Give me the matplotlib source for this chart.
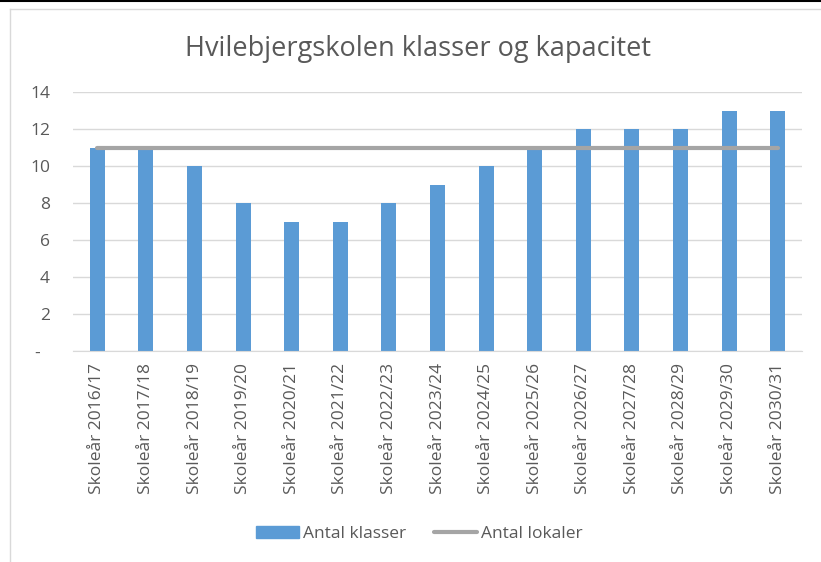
import matplotlib
matplotlib.use("Agg")
import matplotlib.pyplot as plt
from matplotlib.lines import Line2D
import numpy as np

# data
skoleaar = ["Skoleår 2016/17", "Skoleår 2017/18", "Skoleår 2018/19", "Skoleår 2019/20",
            "Skoleår 2020/21", "Skoleår 2021/22", "Skoleår 2022/23", "Skoleår 2023/24",
            "Skoleår 2024/25", "Skoleår 2025/26", "Skoleår 2026/27", "Skoleår 2027/28",
            "Skoleår 2028/29", "Skoleår 2029/30", "Skoleår 2030/31"]
antal_klasser = [11, 11, 10, 8, 7, 7, 8, 9, 10, 11, 12, 12, 12, 13, 13]
antal_lokaler = [11, 11, 11, 11, 11, 11, 11, 11, 11, 11, 11, 11, 11, 11, 11]
y_ticks = [0, 2, 4, 6, 8, 10, 12, 14]
y_labels = ["-  ", "2", "4", "6", "8", "10", "12", "14"]

blue = "#5B9BD5"
grey = "#A5A5A5"
txt = "#595959"
plt.rcParams["font.family"] = ["Open Sans", "DejaVu Sans"]

W, H = 821, 562
fig = plt.figure(figsize=(W / 100, H / 100), dpi=100)
ax = fig.add_axes([73 / W, 1 - 351 / H, (802 - 73) / W, (351 - 92) / H])

x = np.arange(len(skoleaar))
ax.bar(x, antal_klasser, width=0.31, color=blue, zorder=2, label="Antal klasser")
ax.plot(x, antal_lokaler, color=grey, lw=3, solid_capstyle="round", zorder=3,
        label="Antal lokaler")

ax.set_xlim(-0.5, len(skoleaar) - 0.5)
ax.set_ylim(0, 14)
ax.set_yticks(y_ticks)
ax.set_yticklabels(y_labels)
ax.yaxis.grid(True, color="#D9D9D9", lw=1, zorder=0)
ax.set_axisbelow(True)
for s in ["top", "right", "left"]:
    ax.spines[s].set_visible(False)
ax.spines["bottom"].set_color("#D9D9D9")
ax.tick_params(axis="both", length=0, colors=txt, labelsize=12.5)
ax.tick_params(axis="y", pad=16.5)
ax.tick_params(axis="x", pad=8.5)
ax.set_xticks(x)
ax.set_xticklabels(skoleaar, rotation=90)

fig.text(418 / W, 1 - 56 / H, "Hvilebjergskolen klasser og kapacitet",
         ha="center", va="baseline", fontsize=19.5, color=txt)

handles = [plt.Rectangle((0, 0), 1, 1, color=blue),
           Line2D([0], [0], color=grey, lw=3, solid_capstyle="round")]
fig.legend(handles, ["Antal klasser", "Antal lokaler"], loc="center",
           bbox_to_anchor=(419 / W, 1 - 534 / H), ncol=2, frameon=False,
           fontsize=12.5, labelcolor=txt, handlelength=2.5, handletextpad=0.2,
           columnspacing=1.6)

# frame lines of the surrounding sheet
fig.add_artist(Line2D([0, 1], [1 - 1 / H, 1 - 1 / H], color="black", lw=1.5))
fig.add_artist(Line2D([10 / W, 1], [1 - 9 / H, 1 - 9 / H], color="#D9D9D9", lw=1))
fig.add_artist(Line2D([10 / W, 10 / W], [0, 1 - 9 / H], color="#D9D9D9", lw=1))

fig.savefig("out.png", dpi=100, facecolor="white")
